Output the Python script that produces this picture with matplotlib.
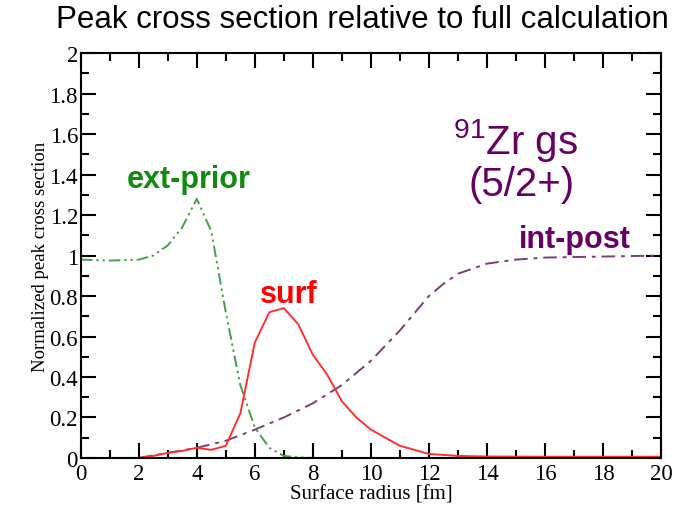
import numpy as np
import matplotlib.pyplot as plt
from matplotlib.ticker import MultipleLocator

plt.rcParams['mathtext.fontset'] = 'custom'
plt.rcParams['mathtext.rm'] = 'Liberation Sans'

# surface radius grid [fm]
r_ext = [0, 1, 2, 2.5, 3, 3.5, 4, 4.5, 5, 5.5, 6, 6.5, 7, 7.5, 8, 9, 10, 11, 12]
ext_prior = [0.98, 0.975, 0.98, 1.0, 1.05, 1.14, 1.28, 1.12, 0.72, 0.36, 0.15, 0.05, 0.01, 0.003, 0.0, 0.0, 0.0, 0.0, 0.0]

r_surf = [1, 2, 2.5, 3, 3.5, 4, 4.5, 5, 5.5, 6, 6.5, 7, 7.5, 8, 8.5, 9, 9.5, 10, 11, 12, 13, 14, 16, 18, 20]
surf = [0.0, 0.0, 0.01, 0.025, 0.035, 0.05, 0.04, 0.06, 0.22, 0.57, 0.72, 0.74, 0.66, 0.51, 0.41, 0.28, 0.2, 0.14, 0.06, 0.02, 0.01, 0.007, 0.006, 0.006, 0.006]

r_int = [2, 3, 4, 5, 6, 7, 8, 9, 10, 11, 12, 12.5, 13, 14, 15, 16, 18, 20]
int_post = [0.0, 0.025, 0.05, 0.085, 0.14, 0.2, 0.27, 0.36, 0.48, 0.63, 0.8, 0.86, 0.91, 0.96, 0.98, 0.99, 0.995, 1.0]

yticks = np.arange(0, 2.01, 0.2)
ytick_labels = ['0', '0.2', '0.4', '0.6', '0.8', '1', '1.2', '1.4', '1.6', '1.8', '2']

fig = plt.figure(figsize=(6.9, 5.06), dpi=100)
ax = fig.add_axes([0.117, 0.093, 0.841, 0.800])

ax.plot(r_ext, ext_prior, color='#4a9e4a', lw=1.4, ls=(0, (6, 2, 1.2, 2, 1.2, 2)))
ax.plot(r_int, int_post, color='#7b3f73', lw=1.4, ls=(0, (7, 3, 2, 3)))
ax.plot(r_surf, surf, color='#ff3030', lw=1.4)

ax.set_xlim(0, 20)
ax.set_ylim(0, 2)
ax.xaxis.set_major_locator(MultipleLocator(2))
ax.xaxis.set_minor_locator(MultipleLocator(1))
ax.set_yticks(yticks)
ax.set_yticklabels(ytick_labels)
ax.yaxis.set_minor_locator(MultipleLocator(0.1))
ax.tick_params(which='both', direction='in', top=True, right=True, width=1.5)
ax.tick_params(which='major', length=11, labelsize=16.5, pad=2)
ax.tick_params(axis='x', which='major', pad=4)
ax.tick_params(which='minor', length=6)
for lab in ax.get_xticklabels() + ax.get_yticklabels():
    lab.set_fontfamily('Liberation Serif')
for s in ax.spines.values():
    s.set_linewidth(1.5)

ax.set_xlabel('Surface radius [fm]', family='Liberation Serif', fontsize=15, labelpad=0)
ax.set_ylabel('Normalized peak cross section', family='Liberation Serif', fontsize=13.5, labelpad=0)

fig.text(0.525, 0.96, 'Peak cross section relative to full calculation',
         ha='center', va='center', fontsize=22.5, family='Liberation Sans')

ax.text(3.72, 1.378, 'ext-prior', color='#108a10', fontsize=22, fontweight='bold',
        family='Liberation Sans', ha='center', va='center')
ax.text(7.17, 0.81, 'surf', color='red', fontsize=22, fontweight='bold',
        family='Liberation Sans', ha='center', va='center')
ax.text(17.03, 1.081, 'int-post', color='#660066', fontsize=22, fontweight='bold',
        family='Liberation Sans', ha='center', va='center')
ax.text(15.0, 1.575, r'$\mathregular{^{91}}$Zr gs', color='#660066', fontsize=29,
        family='Liberation Sans', ha='center', va='center')
ax.text(15.2, 1.353, '(5/2+)', color='#660066', fontsize=29,
        family='Liberation Sans', ha='center', va='center')

fig.savefig('out.png', dpi=100)
